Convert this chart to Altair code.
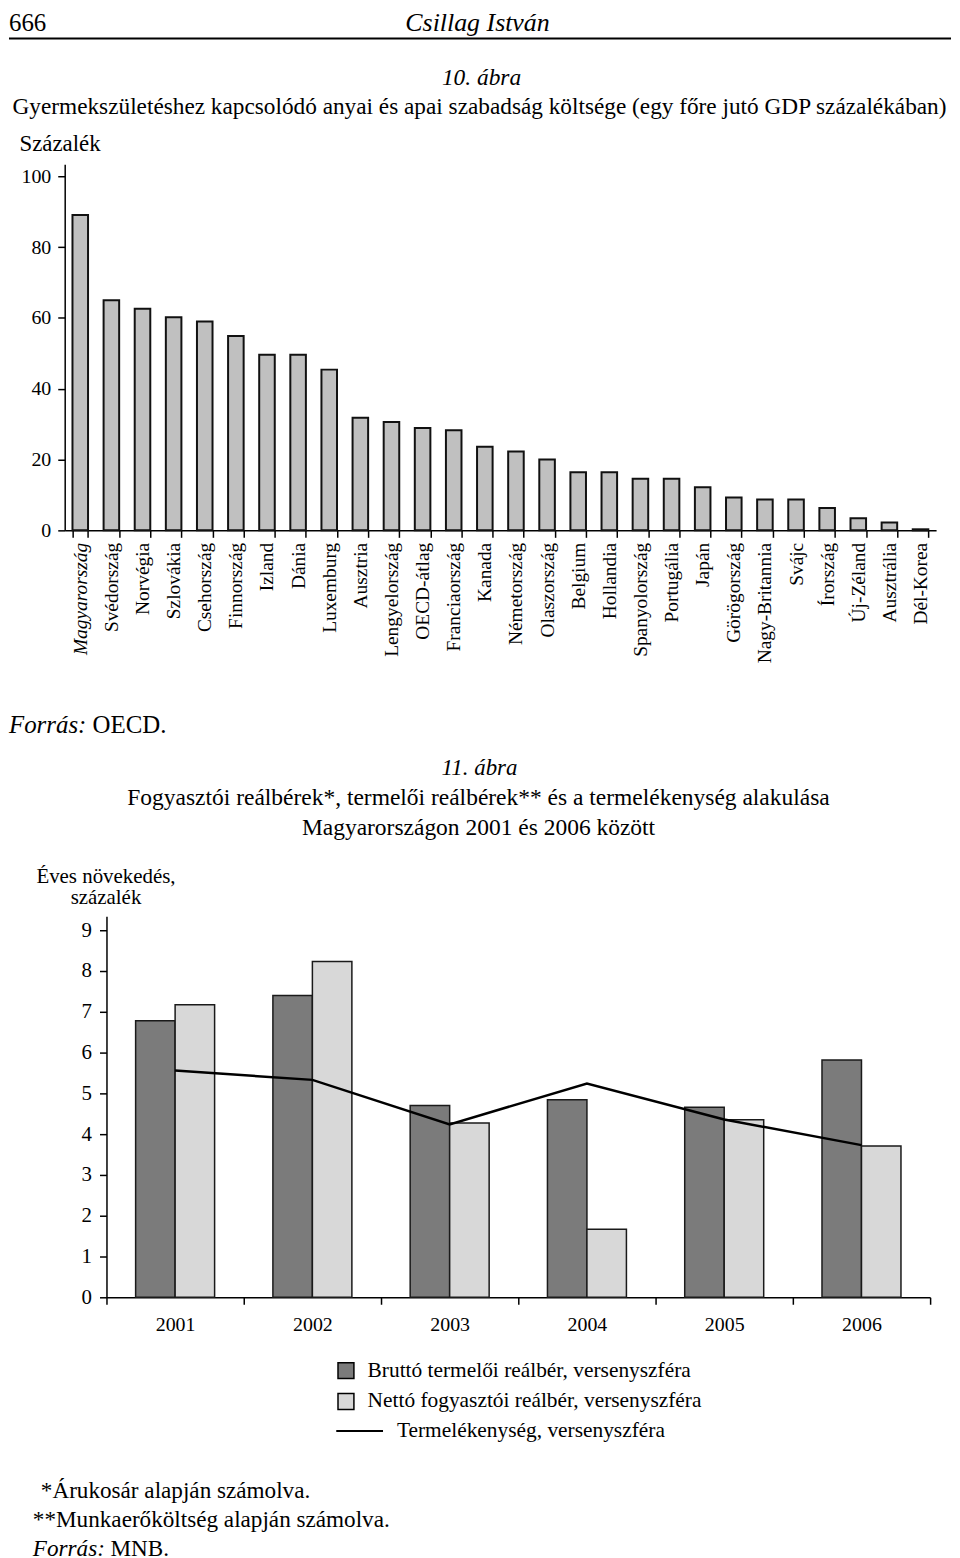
import altair as alt
import pandas as pd

FONT = "Liberation Serif"

# ---------------- Data: chart 10 ----------------
countries = ["Magyarország", "Svédország", "Norvégia", "Szlovákia", "Csehország",
             "Finnország", "Izland", "Dánia", "Luxemburg", "Ausztria",
             "Lengyelország", "OECD-átlag", "Franciaország", "Kanada", "Németország",
             "Olaszország", "Belgium", "Hollandia", "Spanyolország", "Portugália",
             "Japán", "Görögország", "Nagy-Britannia", "Svájc", "Írország",
             "Új-Zéland", "Ausztrália", "Dél-Korea"]
cost = [89.1, 65.0, 62.6, 60.2, 59.0, 54.9, 49.6, 49.6, 45.4, 31.8,
        30.6, 28.9, 28.3, 23.6, 22.3, 20.0, 16.4, 16.4, 14.6, 14.6,
        12.2, 9.3, 8.7, 8.7, 6.3, 3.4, 2.2, 0.3]
y1_ticks = [0, 20, 40, 60, 80, 100]

# ---------------- Data: chart 11 ----------------
years = ["2001", "2002", "2003", "2004", "2005", "2006"]
brutto = [6.78, 7.40, 4.70, 4.84, 4.66, 5.82]
netto = [7.17, 8.23, 4.27, 1.67, 4.35, 3.71]
termelekenyseg = [5.56, 5.33, 4.24, 5.24, 4.36, 3.73]
y2_ticks = [0, 1, 2, 3, 4, 5, 6, 7, 8, 9]

S1 = "Bruttó termelői reálbér, versenyszféra"
S2 = "Nettó fogyasztói reálbér, versenyszféra"
S3 = "Termelékenység, versenyszféra"

df1 = pd.DataFrame({"orszag": countries, "ertek": cost})
rows = []
for ev, b, n in zip(years, brutto, netto):
    rows.append({"ev": ev, "sorozat": S1, "ertek": b})
    rows.append({"ev": ev, "sorozat": S2, "ertek": n})
df2 = pd.DataFrame(rows)
df3 = pd.DataFrame({"ev": years, "ertek": termelekenyseg, "sorozat": [S3] * len(years)})


def txt(s, x, y, size, style="normal", align="left", baseline="middle"):
    return alt.Chart(alt.Data(values=[{}])).mark_text(
        text=s, font=FONT, fontSize=size, fontStyle=style, align=align,
        baseline=baseline, color="black"
    ).encode(x=alt.value(x), y=alt.value(y))


# ---------------- Chart 10 ----------------
W1, H1 = 876, 368
bars1 = alt.Chart(df1).mark_bar(fill="#c0c0c0", stroke="#111111", strokeWidth=2).encode(
    x=alt.X("orszag:N", sort=countries,
            scale=alt.Scale(paddingInner=0.5, paddingOuter=0.25),
            axis=alt.Axis(title=None, labelAngle=-90, labelFontSize=19.5, labelPadding=5,
                          tickSize=7, tickBand="extent",
                          labelFontStyle={"condition": {"test": "datum.value === 'Magyarország'",
                                                        "value": "italic"},
                                          "value": "normal"})),
    y=alt.Y("ertek:Q", scale=alt.Scale(domain=[0, 103.4], nice=False),
            axis=alt.Axis(values=y1_ticks, title="Százalék", titleAngle=0, titleAlign="left",
                          titleBaseline="middle", titleX=-46, titleY=-21, titleFontSize=23,
                          titleFontWeight="normal", labelFontSize=20, labelPadding=7, tickSize=7)),
)

chart1 = alt.layer(
    bars1,
    txt("666", -56, -141.5, 25),
    txt("Csillag István", 415, -141.5, 26, style="italic", align="center"),
    alt.Chart(alt.Data(values=[{}])).mark_rule(color="black", strokeWidth=2).encode(
        x=alt.value(-56), x2=alt.value(891), y=alt.value(-126.5)),
    txt("10. ábra", 419, -87, 23.5, style="italic", align="center"),
    txt("Gyermekszületéshez kapcsolódó anyai és apai szabadság költsége (egy főre jutó GDP százalékában)",
        417, -57.5, 23.4, align="center"),
    txt("Forrás:", -56, 564, 25, style="italic"),
    txt("OECD.", 28, 564, 25),
).properties(width=W1, height=H1)

# ---------------- Chart 11 ----------------
W2, H2 = 828, 383
bars2 = alt.Chart(df2).mark_bar(stroke="#1a1a1a", strokeWidth=1.5).encode(
    x=alt.X("ev:N", sort=years, scale=alt.Scale(paddingInner=0, paddingOuter=0),
            axis=alt.Axis(title=None, labelAngle=0, tickBand="extent", tickSize=7,
                          labelPadding=10, labelFontSize=20)),
    xOffset=alt.XOffset("sorozat:N", sort=[S1, S2],
                        scale=alt.Scale(paddingInner=0, paddingOuter=0.738)),
    y=alt.Y("ertek:Q", scale=alt.Scale(domain=[0, 9.34], nice=False),
            axis=alt.Axis(values=y2_ticks, title=["Éves növekedés,", "százalék"], titleAngle=0,
                          titleAlign="center", titleBaseline="alphabetic", titleX=-1, titleY=-34,
                          titleLineHeight=21, titleFontSize=21, titleFontWeight="normal",
                          labelFontSize=21, labelPadding=8, tickSize=7)),
    fill=alt.Fill("sorozat:N", sort=[S1, S2],
                  scale=alt.Scale(domain=[S1, S2], range=["#7b7b7b", "#d8d8d8"]),
                  legend=alt.Legend(title=None, orient="none", legendX=230, legendY=446,
                                    symbolType="square", symbolSize=256,
                                    symbolStrokeColor="black", symbolStrokeWidth=1.5,
                                    labelFont=FONT, labelFontSize=21.5, labelColor="black",
                                    labelOffset=11, labelLimit=600, rowPadding=8, padding=0)),
)
line2 = alt.Chart(df3).mark_line(strokeWidth=2.5).encode(
    x=alt.X("ev:N", sort=years),
    y=alt.Y("ertek:Q"),
    stroke=alt.Stroke("sorozat:N", scale=alt.Scale(domain=[S3], range=["black"]),
                      legend=alt.Legend(title=None, orient="none", legendX=230, legendY=493,
                                        symbolType="stroke", symbolSize=2209,
                                        symbolStrokeWidth=2, labelFont=FONT,
                                        labelFontSize=21.5, labelColor="black",
                                        labelOffset=13, labelLimit=600, padding=0)),
)

chart2 = alt.layer(
    bars2,
    line2,
    txt("11. ábra", 375, -149, 23, style="italic", align="center"),
    txt("Fogyasztói reálbérek*, termelői reálbérek** és a termelékenység alakulása",
        374, -119, 23.6, align="center"),
    txt("Magyarországon 2001 és 2006 között", 374, -89, 23.6, align="center"),
    txt("*Árukosár alapján számolva.", -66, 578, 23.3),
    txt("**Munkaerőköltség alapján számolva.", -74, 607, 23.3),
    txt("Forrás:", -74, 636, 23.3, style="italic"),
    txt("MNB.", 4, 636, 23.3),
).properties(width=W2, height=H2)

spacer = alt.Chart(alt.Data(values=[{}])).mark_text(text="").properties(width=42, height=10)

row2 = alt.hconcat(spacer, chart2, spacing=0, bounds="flush").resolve_legend(
    fill="independent", stroke="independent")

chart = alt.vconcat(chart1, row2, spacing=388, bounds="flush").resolve_legend(
    fill="independent", stroke="independent"
).properties(padding={"top": -2, "left": 0, "right": 0, "bottom": 0}).configure_view(
    stroke=None
).configure_axis(
    domainColor="black", tickColor="black", labelColor="black", titleColor="black",
    labelFont=FONT, titleFont=FONT, domainWidth=1.5, tickWidth=1.5, grid=False
)

chart.save("out.html", embed_options={"renderer": "svg", "actions": False})
